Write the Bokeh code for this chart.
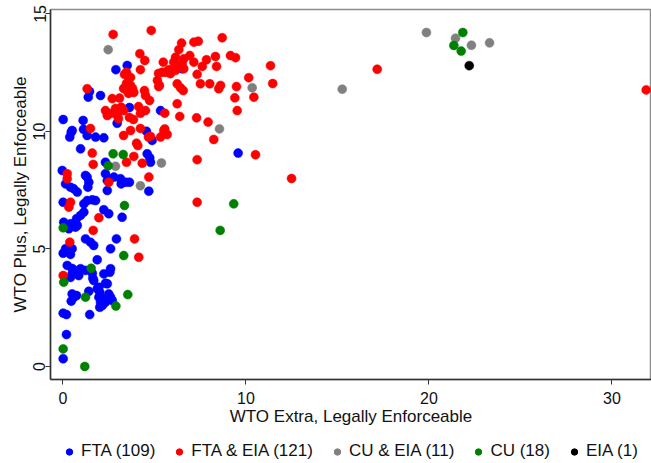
from bokeh.plotting import figure
from bokeh.layouts import column
from bokeh.models import Range1d, FixedTicker, Legend, LegendItem, ColumnDataSource
from bokeh.embed import file_html
from bokeh.resources import INLINE

# ---- data ----
fta_x = [3.51, 2.89, 1.45, 1.38, 2.05, 3.63, 5.33, 0.01, 1.10, 2.96, 0.50, 1.12, 0.45, 0.37, 1.32,
         1.78, 2.23, 4.87, 0.96, 4.60, 4.74, 2.32, -0.04, 0.14, 0.59, 0.78, 1.32, 1.41, 1.36, 2.32,
         2.42, 2.56, 2.78, 3.14, 3.18, 3.63, 2.42, 4.69, 0.01, 1.32, 1.60, 1.78, 2.23, 2.50, 3.23,
         1.14, 0.96, 0.74, 0.04, 0.41, 0.32, 0.78, 1.23, 1.50, 1.68, 2.92, 0.14, 0.50, 2.60, 0.01,
         0.41, 1.87, 0.23, 0.50, 0.86, 0.50, 1.23, 1.60, 1.68, 2.23, 2.56, 2.60, 1.96, 2.01, 2.32,
         1.41, 0.50, 0.74, 0.59, 0.45, 1.96, 2.05, 2.23, 2.50, 2.69, 2.01, 2.16, 0.01, 0.19, 1.46,
         0.19, 0.01, 6.51, 9.57, 4.56, 0.41, 1.23, 3.42, 1.14, 0.68, 0.96, 0.41, 0.86, 1.63, 1.87,
         2.32, 2.60, 4.78, 2.42]
fta_y = [12.81, 12.63, 11.70, 11.46, 11.53, 11.02, 10.89, 10.51, 10.47, 10.35, 10.04, 10.09, 9.97, 9.76, 9.83,
         9.76, 9.73, 9.62, 9.26, 9.05, 8.88, 8.69, 8.34, 7.77, 7.56, 7.42, 8.06, 7.84, 7.63, 8.20,
         7.91, 7.99, 8.06, 7.99, 7.77, 7.84, 7.49, 7.46, 6.99, 7.06, 7.09, 7.06, 6.67, 6.50, 6.35,
         6.57, 6.43, 6.29, 6.14, 6.07, 5.86, 6.00, 5.43, 5.29, 5.15, 5.43, 5.01, 5.01, 5.01, 4.82,
         4.77, 4.54, 4.30, 4.17, 4.09, 3.94, 4.09, 3.97, 3.66, 3.94, 4.01, 4.16, 3.37, 3.16, 3.54,
         3.20, 3.09, 3.02, 2.94, 2.78, 2.95, 2.74, 2.88, 3.09, 2.81, 2.52, 2.60, 2.27, 2.21, 2.21,
         1.36, 0.33, 12.67, 9.08, 10.01, 7.63, 8.13, 7.84, 6.92, 5.93, 4.16, 3.79, 3.87, 3.76, 3.31,
         2.74, 2.95, 8.69, 3.52]

ftaeia_x = [2.74, 4.82, 4.20, 4.47, 4.23, 3.47, 3.69, 3.47, 3.31, 3.80, 3.58, 4.45, 4.51, 5.22, 5.27,
            1.32, 2.69, 3.09, 4.73, 2.32, 2.60, 2.87, 3.18, 3.03, 4.13, 4.51, 4.23, 3.63, 3.85, 1.50,
            3.69, 4.23, 3.31, 4.67, 4.02, 4.09, 1.60, 3.87, 1.65, 3.47, 4.33, 0.23, 0.23, 2.50, 4.69,
            0.41, 0.32, 1.96, 1.65, 3.91, 0.37, 4.14, 0.01, 8.70, 6.48, 7.15, 7.39, 6.33, 6.15, 6.05,
            6.60, 6.93, 7.15, 6.38, 6.60, 5.48, 5.42, 5.60, 5.87, 5.87, 6.15, 7.84, 7.61, 8.33, 8.39,
            9.15, 9.43, 7.33, 5.23, 6.24, 6.42, 6.57, 7.51, 8.02, 8.61, 8.51, 9.48, 10.15, 10.43, 9.39,
            6.24, 9.52, 5.56, 6.38, 7.30, 7.93, 5.56, 5.69, 5.33, 8.24, 7.33, 10.52, 7.33, 11.34, 17.17,
            11.46, 31.87, 12.49, 2.42, 2.96, 3.69, 3.51, 6.51, 5.78, 5.51, 4.78, 3.60, 3.32, 3.36, 3.87,
            5.16]
ftaeia_y = [14.13, 14.30, 13.31, 13.02, 12.63, 12.52, 12.30, 12.04, 11.83, 11.83, 11.62, 11.74, 11.53, 12.47, 11.96,
            11.82, 11.40, 11.42, 11.32, 10.89, 10.77, 10.98, 11.03, 10.55, 11.06, 10.89, 10.77, 10.60, 10.51, 10.13,
            10.04, 10.13, 9.83, 9.76, 9.50, 9.40, 9.08, 8.94, 8.60, 8.69, 8.65, 8.20, 7.99, 7.84, 8.06,
            6.99, 6.78, 6.33, 5.79, 5.43, 5.29, 4.65, 3.87, 13.99, 13.76, 13.80, 13.84, 13.48, 13.16, 12.95,
            13.09, 13.23, 12.95, 12.81, 12.67, 12.95, 12.52, 12.52, 12.60, 12.46, 12.60, 13.05, 12.77, 13.19, 12.77,
            13.23, 13.14, 12.43, 11.91, 12.03, 11.86, 11.74, 12.03, 12.03, 11.96, 11.82, 11.91, 12.29, 11.46, 11.43,
            11.18, 10.89, 10.78, 10.64, 10.58, 10.40, 10.11, 9.87, 9.76, 9.66, 8.80, 9.01, 6.99, 12.80, 12.65,
            12.04, 11.77, 8.00, 10.68, 10.68, 11.96, 11.74, 12.88, 12.63, 10.04, 9.79, 12.26, 10.89, 12.43, 11.66,
            12.17]

cueia_x = [2.47, 2.87, 5.38, 4.23, 10.34, 8.55, 19.86, 21.45, 22.32, 23.31, 15.26]
cueia_y = [13.48, 8.52, 8.66, 7.69, 11.86, 10.11, 14.21, 13.97, 13.67, 13.77, 11.80]

cu_x = [2.74, 3.29, 2.47, 3.36, 0.01, 3.32, 1.54, 0.04, 1.23, 3.54, 2.89, 0.01, 1.19, 9.33, 8.59,
        21.85, 21.36, 21.76]
cu_y = [9.05, 9.02, 8.54, 6.85, 5.90, 4.72, 4.18, 3.59, 2.95, 3.06, 2.57, 0.75, 0.00, 6.92, 5.79,
        14.21, 13.66, 13.42]

eia_x = [22.20]
eia_y = [12.80]

series_names = ["FTA (109)", "FTA & EIA (121)", "CU & EIA (11)", "CU (18)", "EIA (1)"]
series_colors = ["#0000FF", "#FF0000", "#808080", "#008000", "#000000"]
series_x = [fta_x, ftaeia_x, cueia_x, cu_x, eia_x]
series_y = [fta_y, ftaeia_y, cueia_y, cu_y, eia_y]

x_ticks = [0, 10, 20, 30]
y_ticks = [0, 5, 10, 15]
x_title = "WTO Extra, Legally Enforceable"
y_title = "WTO Plus, Legally Enforceable"

FONT = "Liberation Sans"

# ---- main scatter plot ----
p = figure(width=651, height=434,
           x_range=Range1d(-0.683, 32.16), y_range=Range1d(-0.553, 15.19),
           output_backend="svg", toolbar_location=None,
           min_border_left=50, min_border_right=0, min_border_top=9, min_border_bottom=55)

p.xgrid.visible = False
p.ygrid.visible = False
p.outline_line_color = "#8c8c8c"
p.outline_line_width = 1.5
p.background_fill_color = "white"
p.border_fill_color = "white"

for ax, ticks, title in ((p.xaxis, x_ticks, x_title), (p.yaxis, y_ticks, y_title)):
    ax.ticker = FixedTicker(ticks=ticks)
    ax.axis_label = title
    ax.axis_label_text_font = FONT
    ax.axis_label_text_font_size = "17px"
    ax.axis_label_text_font_style = "normal"
    ax.axis_label_text_color = "#111111"
    ax.major_label_text_font = FONT
    ax.major_label_text_font_size = "16px"
    ax.major_label_text_color = "#111111"
    ax.axis_line_color = "#333333"
    ax.axis_line_width = 1.5
    ax.major_tick_line_color = "#333333"
    ax.major_tick_in = 0
    ax.major_tick_out = 5
    ax.minor_tick_line_color = None

p.xaxis.major_label_standoff = 7
p.xaxis.axis_label_standoff = 0
p.yaxis.major_label_standoff = 0
p.yaxis.axis_label_standoff = 1
p.yaxis.major_label_orientation = "vertical"

for name, color, xs, ys in zip(series_names, series_colors, series_x, series_y):
    src = ColumnDataSource(data=dict(x=xs, y=ys))
    p.scatter("x", "y", source=src, size=9, fill_color=color, line_color=color, line_width=0.5)

# ---- legend strip below the plot (its own view range shows none of the points) ----
leg = figure(width=651, height=29, output_backend="svg", toolbar_location=None,
             x_range=Range1d(100, 101), y_range=Range1d(100, 101),
             min_border_left=0, min_border_right=0, min_border_top=0, min_border_bottom=0)
leg.axis.visible = False
leg.xgrid.visible = False
leg.ygrid.visible = False
leg.outline_line_color = None
leg.border_fill_color = "white"

items = []
for name, color, xs, ys in zip(series_names, series_colors, series_x, series_y):
    src = ColumnDataSource(data=dict(x=xs, y=ys))
    r = leg.scatter("x", "y", source=src, size=9, fill_color=color, line_color=color)
    items.append(LegendItem(label=name, renderers=[r]))

legend = Legend(items=items, orientation="horizontal", location=(11, 2),
                border_line_color=None, background_fill_alpha=0,
                glyph_width=16, glyph_height=17, label_standoff=4, spacing=16,
                padding=0, margin=0,
                label_text_font=FONT, label_text_font_size="17px", label_text_color="#111111")
leg.add_layout(legend, "center")

layout = column(p, leg, spacing=0)
open("out.html", "w").write(file_html(layout, INLINE))
